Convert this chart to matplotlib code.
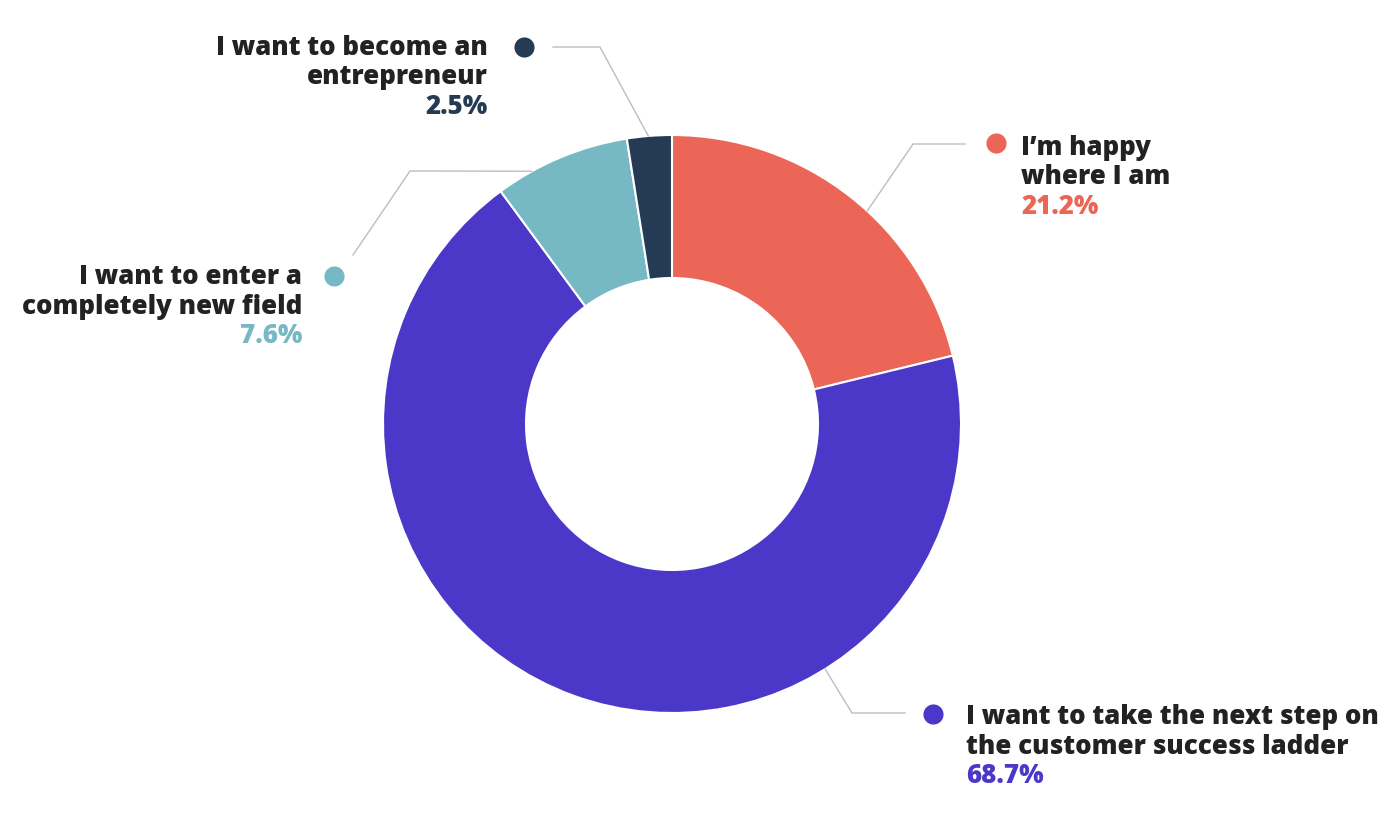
import matplotlib.pyplot as plt
import numpy as np

# data, in drawing order (clockwise from 12 o'clock)
labels = ["I\u2019m happy\nwhere I am",
          "I want to take the next step on\nthe customer success ladder",
          "I want to enter a\ncompletely new field",
          "I want to become an\nentrepreneur"]
values = [21.2, 68.7, 7.6, 2.5]
colors = ["#EC6657", "#4B38C9", "#76B9C4", "#243B53"]

W, H = 1388, 832
cx, cy = 672, 832 - 424
R, RIN = 289, 146

# label layout (pixel coords, y from top): leader angle (deg from top, clockwise),
# elbow point, line end, dot, text anchor, alignment
layout = [
    dict(ang=42.5, elbow=(913, 144), end=(965, 144), dot=(996, 143), txt=(1021, 148), ha="left"),
    dict(ang=148.0, elbow=(852, 713), end=(905, 713), dot=(933, 714), txt=(966, 717), ha="left"),
    dict(ang=-29.0, elbow=(410, 171), end=(353, 255), dot=(334, 276), txt=(302, 277), ha="right"),
    dict(ang=-4.7, elbow=(600, 47), end=(553, 47), dot=(524, 47), txt=(488, 48), ha="right"),
]

fig = plt.figure(figsize=(W / 100, H / 100), dpi=100)
fig.patch.set_facecolor("white")
ax = fig.add_axes([0, 0, 1, 1])

ax.pie(values, colors=colors, startangle=90, counterclock=False,
       center=(cx, cy), radius=R,
       wedgeprops=dict(width=R - RIN, edgecolor="white", linewidth=1.5))
ax.set_xlim(0, W)
ax.set_ylim(0, H)
ax.set_aspect("equal")
ax.axis("off")

font = ["Open Sans", "DejaVu Sans"]
line_h = 29.5

for lab, val, col, lo in zip(labels, values, colors, layout):
    a = np.deg2rad(lo["ang"])
    sx, sy = cx + R * np.sin(a), cy + R * np.cos(a)
    ex, ey = lo["elbow"]
    fx, fy = lo["end"]
    ax.plot([sx, ex, fx], [sy, H - ey, H - fy], color="#bdbdbd", lw=1, zorder=1)
    dx, dy = lo["dot"]
    ax.scatter([dx], [H - dy], s=210, color=col, zorder=3, linewidths=0)
    tx, ty = lo["txt"]
    lines = lab.split("\n")
    for i, ln in enumerate(lines):
        ax.text(tx, H - (ty + i * line_h), ln, ha=lo["ha"], va="center",
                fontsize=18.6, fontweight="heavy", color="#222222", family=font)
    ax.text(tx, H - (ty + len(lines) * line_h), f"{val}%", ha=lo["ha"], va="center",
            fontsize=18.6, fontweight="heavy", color=col, family=font)

fig.savefig("out.png", dpi=100, facecolor="white")
